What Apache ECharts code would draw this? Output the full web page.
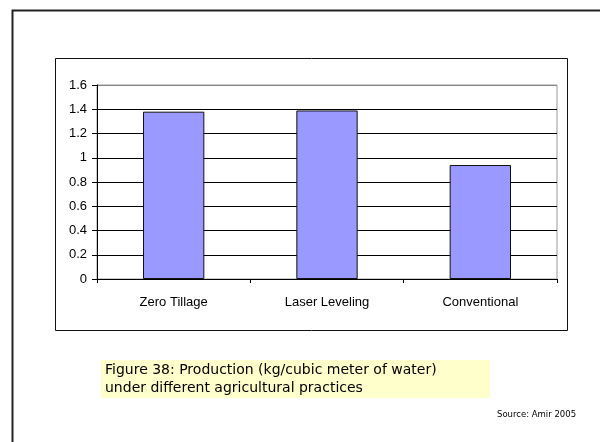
<!DOCTYPE html>
<html>
<head>
<meta charset="utf-8">
<script src="https://cdn.jsdelivr.net/npm/echarts@6/dist/echarts.min.js"></script>
<style>html,body{margin:0;padding:0;background:#fff;}#c{width:600px;height:442px;}</style>
</head>
<body>
<div id="c"></div>
<script>
var categories = ['Zero Tillage', 'Laser Leveling', 'Conventional'];
var values = [1.38, 1.39, 0.94];
var yTicks = ['0', '0.2', '0.4', '0.6', '0.8', '1', '1.2', '1.4', '1.6'];
var captionLines = ['Figure 38: Production (kg/cubic meter of water)', 'under different agricultural practices'];
var sourceText = 'Source: Amir 2005';

var chart = echarts.init(document.getElementById('c'), null, {renderer: 'canvas'});
var gridColors = ['#000', '#000', '#000', '#000', '#000', '#000', '#000', '#000', '#888'];
chart.setOption({
  animation: false,
  backgroundColor: '#fff',
  graphic: [
    {type: 'rect', left: 10, top: 8, shape: {width: 620, height: 460}, style: {fill: 'none', stroke: '#222', lineWidth: 2}},
    {type: 'rect', left: 55, top: 58, shape: {width: 512, height: 272}, style: {fill: '#fff', stroke: '#111', lineWidth: 1}, z: -1},
    {type: 'rect', left: 101, top: 360, shape: {width: 389, height: 38}, style: {fill: '#FFFFCC'}},
    {type: 'text', left: 105, top: 361, style: {text: captionLines.join('\n'), font: '14px "DejaVu Sans"', fill: '#000', lineHeight: 18}},
    {type: 'text', left: 497, top: 410, style: {text: sourceText, font: '8.5px "DejaVu Sans"', fill: '#000'}}
  ],
  grid: {left: 97, right: 43, top: 85, bottom: 163, show: true, borderColor: '#999', borderWidth: 1, backgroundColor: 'transparent'},
  xAxis: {
    type: 'category', data: categories,
    axisLine: {lineStyle: {color: '#000', width: 1}},
    axisTick: {show: true, alignWithLabel: false, length: 4, lineStyle: {color: '#000'}},
    axisLabel: {color: '#000', fontFamily: 'Liberation Sans', fontSize: 13, margin: 17}
  },
  yAxis: {
    type: 'value', min: 0, max: 1.6, interval: 0.2,
    axisLine: {show: true, lineStyle: {color: '#000', width: 1}},
    axisTick: {show: true, length: 5, lineStyle: {color: '#000'}},
    axisLabel: {color: '#000', fontFamily: 'Liberation Sans', fontSize: 13, margin: 10,
      formatter: function (v) { var i = Math.round(v / 0.2); return yTicks[i]; }},
    splitLine: {show: true, lineStyle: {color: gridColors, width: 1}}
  },
  series: [{
    type: 'bar', data: values, barWidth: '40%',
    itemStyle: {color: '#9999FF', borderColor: '#111', borderWidth: 1}
  }]
});
</script>
</body>
</html>
